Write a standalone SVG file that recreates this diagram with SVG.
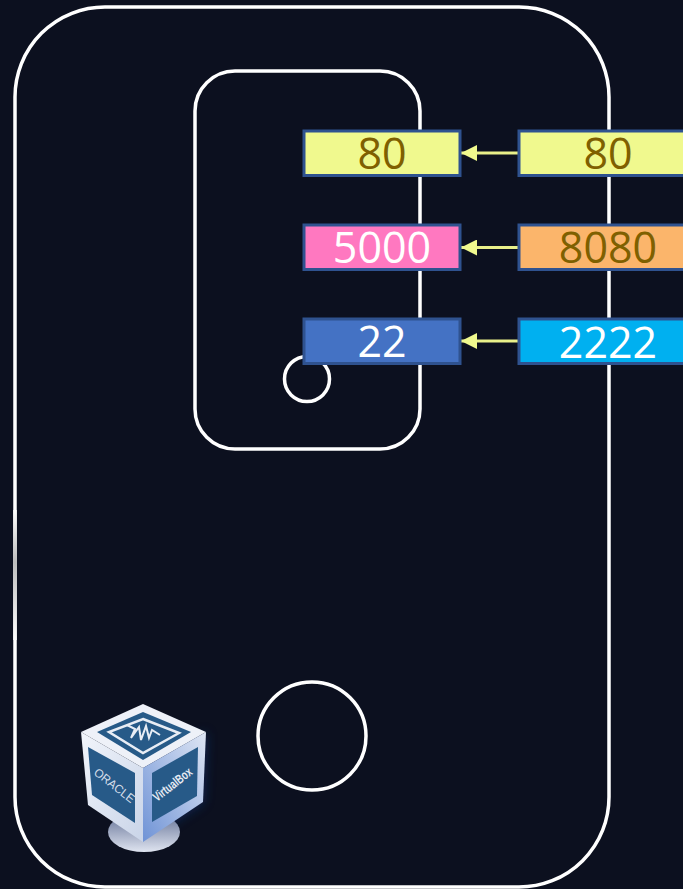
<svg xmlns="http://www.w3.org/2000/svg" width="683" height="889" viewBox="0 0 683 889">
<style>
.frame{fill:none;stroke:#fff;stroke-width:3.500}
.port{stroke:#2f528f;stroke-width:3}
.lbl{font-family:"Open Sans","Noto Sans",sans-serif;font-size:43px;text-anchor:middle}
.dark{fill:#7f6000}
.light{fill:#fff}
.link{stroke:#e9f08a;stroke-width:3;fill:none;marker-end:url(#arrow)}
.panel{fill:#275a88}
</style>
<defs>
<marker id="arrow" markerUnits="userSpaceOnUse" markerWidth="16" markerHeight="16" refX="16" refY="8" orient="auto"><path d="M0 0L16 8L0 16Z" fill="#f0f98e"/></marker>
<linearGradient id="cl" x1="0" y1="0" x2="1" y2="1"><stop offset="0" stop-color="#f2f5fb"/><stop offset="1" stop-color="#c9d4e8"/></linearGradient>
<linearGradient id="cr" x1="0" y1="1" x2="1" y2="0"><stop offset="0" stop-color="#6f93d6"/><stop offset="1" stop-color="#dfe6f4"/></linearGradient>
<linearGradient id="cb" x1="0" y1="0" x2="0" y2="1"><stop offset="0" stop-color="#5f6d92"/><stop offset="1" stop-color="#dfe4f0"/></linearGradient>
<linearGradient id="fade" x1="0" y1="0" x2="0" y2="1"><stop offset="0" stop-color="#fff"/><stop offset=".4" stop-color="#bdbdbd"/><stop offset="1" stop-color="#fff"/></linearGradient>
<filter id="glow" x="-30%" y="-30%" width="160%" height="160%"><feGaussianBlur stdDeviation="6"/></filter>
</defs>
<rect width="683" height="889" fill="#0c101f"/>
<g id="host"><rect class="frame" x="15" y="7" width="594" height="880" rx="90"/><rect x="13.250" y="510" width="3.500" height="130" fill="url(#fade)"/></g>
<g id="container"><rect class="frame" x="195" y="71" width="225" height="378" rx="40"/></g>
<g id="container-port"><circle class="frame" cx="307" cy="379" r="22.500"/></g>
<g id="host-port"><circle class="frame" cx="312" cy="736" r="54"/></g>
<g id="connectors">
<line class="link" x1="519" y1="153" x2="461" y2="153"/>
<line class="link" x1="519" y1="247.500" x2="461" y2="247.500"/>
<line class="link" x1="519" y1="341" x2="461" y2="341"/>
</g>
<g id="p80"><rect class="port" x="304" y="131" width="156" height="44.500" fill="#f0f98e"/><text class="lbl dark" x="382" y="169">80</text></g>
<g id="p5000"><rect class="port" x="304" y="225" width="156" height="44.500" fill="#ff78c0"/><text class="lbl light" x="382" y="263">5000</text></g>
<g id="p22"><rect class="port" x="304" y="319" width="156" height="44.500" fill="#4472c4"/><text class="lbl light" x="382" y="357">22</text></g>
<g id="h80"><rect class="port" x="519" y="131" width="178" height="44.500" fill="#f0f98e"/><text class="lbl dark" x="608" y="169">80</text></g>
<g id="h8080"><rect class="port" x="519" y="225" width="178" height="44.500" fill="#fbb56b"/><text class="lbl dark" x="608" y="263">8080</text></g>
<g id="h2222"><rect class="port" x="519" y="319" width="178" height="44.500" fill="#00b0f0"/><text class="lbl light" x="608" y="358">2222</text></g>
<g id="virtualbox">
<path d="M143 768L206 732L203 802L143 842Z" fill="#123a88" opacity=".55" filter="url(#glow)"/>
<ellipse cx="144" cy="832" rx="36" ry="20" fill="url(#cb)"/>
<polygon points="143,704 206,732 143,768 81,732" fill="#eef1f8"/>
<polygon points="81,732 143,768 143,842 88,805" fill="url(#cl)"/>
<polygon points="206,732 203,802 143,842 143,768" fill="url(#cr)"/>
<polygon class="panel" points="143,712 191,732 143,760 97,732"/>
<polygon points="143,719 179,733 143,753 109,732" fill="none" stroke="#e8edf5" stroke-width="2.500"/>
<path d="M127 725L135 729L131 738L139 727L141 740L146 726L149 738L152 730L160 735" fill="none" stroke="#e8edf5" stroke-width="2"/>
<polygon class="panel" points="88,747 135,773 135,823 92,795"/>
<polygon class="panel" points="198,747 152,773 152,822 197,796"/>
<text x="0" y="0" transform="translate(93,774) rotate(38)" font-family="'Liberation Sans',sans-serif" font-size="12" fill="#d5deea" textLength="48" lengthAdjust="spacingAndGlyphs">ORACLE</text>
<text x="0" y="0" transform="translate(157,802) rotate(-38)" font-family="'Liberation Sans',sans-serif" font-size="13" font-weight="bold" fill="#e6ebf3" textLength="46" lengthAdjust="spacingAndGlyphs">VirtualBox</text>
</g>
</svg>
